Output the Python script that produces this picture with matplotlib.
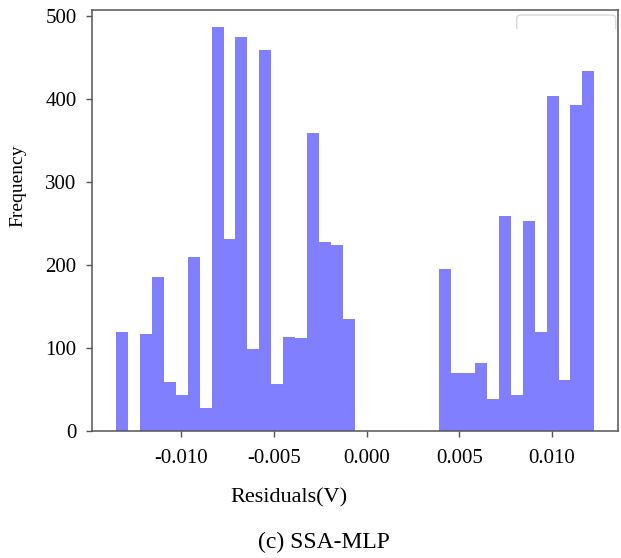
import numpy as np
import matplotlib
matplotlib.use("Agg")
import matplotlib.pyplot as plt
from matplotlib.patches import FancyBboxPatch, Rectangle

# histogram of residuals, 40 equal bins between the min and max residual
res_min = -0.013525
res_max = 0.012288
n_bins = 40
counts = [119, 0, 116, 185, 59, 43, 209, 27, 486, 231,
          475, 99, 459, 56, 113, 112, 359, 227, 224, 135,
          0, 0, 0, 0, 0, 0, 0, 195, 70, 69,
          82, 38, 259, 43, 253, 119, 403, 61, 393, 434]
x_ticks = [-0.010, -0.005, 0.000, 0.005, 0.010]
y_ticks = [0, 100, 200, 300, 400, 500]

plt.rcParams['font.family'] = ['Liberation Serif', 'DejaVu Serif']

edges = np.linspace(res_min, res_max, n_bins + 1)
centers = (edges[:-1] + edges[1:]) / 2

fig = plt.figure(figsize=(6.21, 5.58), dpi=100)
ax = fig.add_axes([0.148, 0.2281, 0.8477, 0.7539])

ax.hist(centers, bins=edges, weights=counts, color='blue', alpha=0.5)
ax.set_ylim(0, 507)

ax.set_xticks(x_ticks)
ax.set_xticklabels(['%.3f' % t for t in x_ticks])
ax.set_yticks(y_ticks)
ax.tick_params(axis='both', direction='out', length=4, width=1,
               color='#555555', labelsize=15, labelcolor='black')
ax.tick_params(axis='x', pad=9)
ax.tick_params(axis='y', pad=7)
for sp in ax.spines.values():
    sp.set_color('#555555')
    sp.set_linewidth(1.1)

# faint leftover legend frame at top right (only its top part shows)
box = FancyBboxPatch((0.807, 0.82), 0.188, 0.168, transform=ax.transAxes,
                     boxstyle='round,pad=0,rounding_size=0.008',
                     facecolor='none', edgecolor='#d8d8d8', linewidth=1)
ax.add_patch(box)
clip = Rectangle((0.80, 0.955), 0.2, 0.045, transform=ax.transAxes)
box.set_clip_path(clip)

fig.text(289 / 621, 1 - 498 / 558, 'Residuals(V)', fontsize=16,
         ha='center', va='center')
fig.text(18 / 621, 1 - 186 / 558, 'Frequency', fontsize=14,
         rotation=90, ha='center', va='center')
fig.text(324 / 621, 1 - 542 / 558, '(c) SSA-MLP', fontsize=17,
         ha='center', va='center')

fig.savefig('out.png', dpi=100)
